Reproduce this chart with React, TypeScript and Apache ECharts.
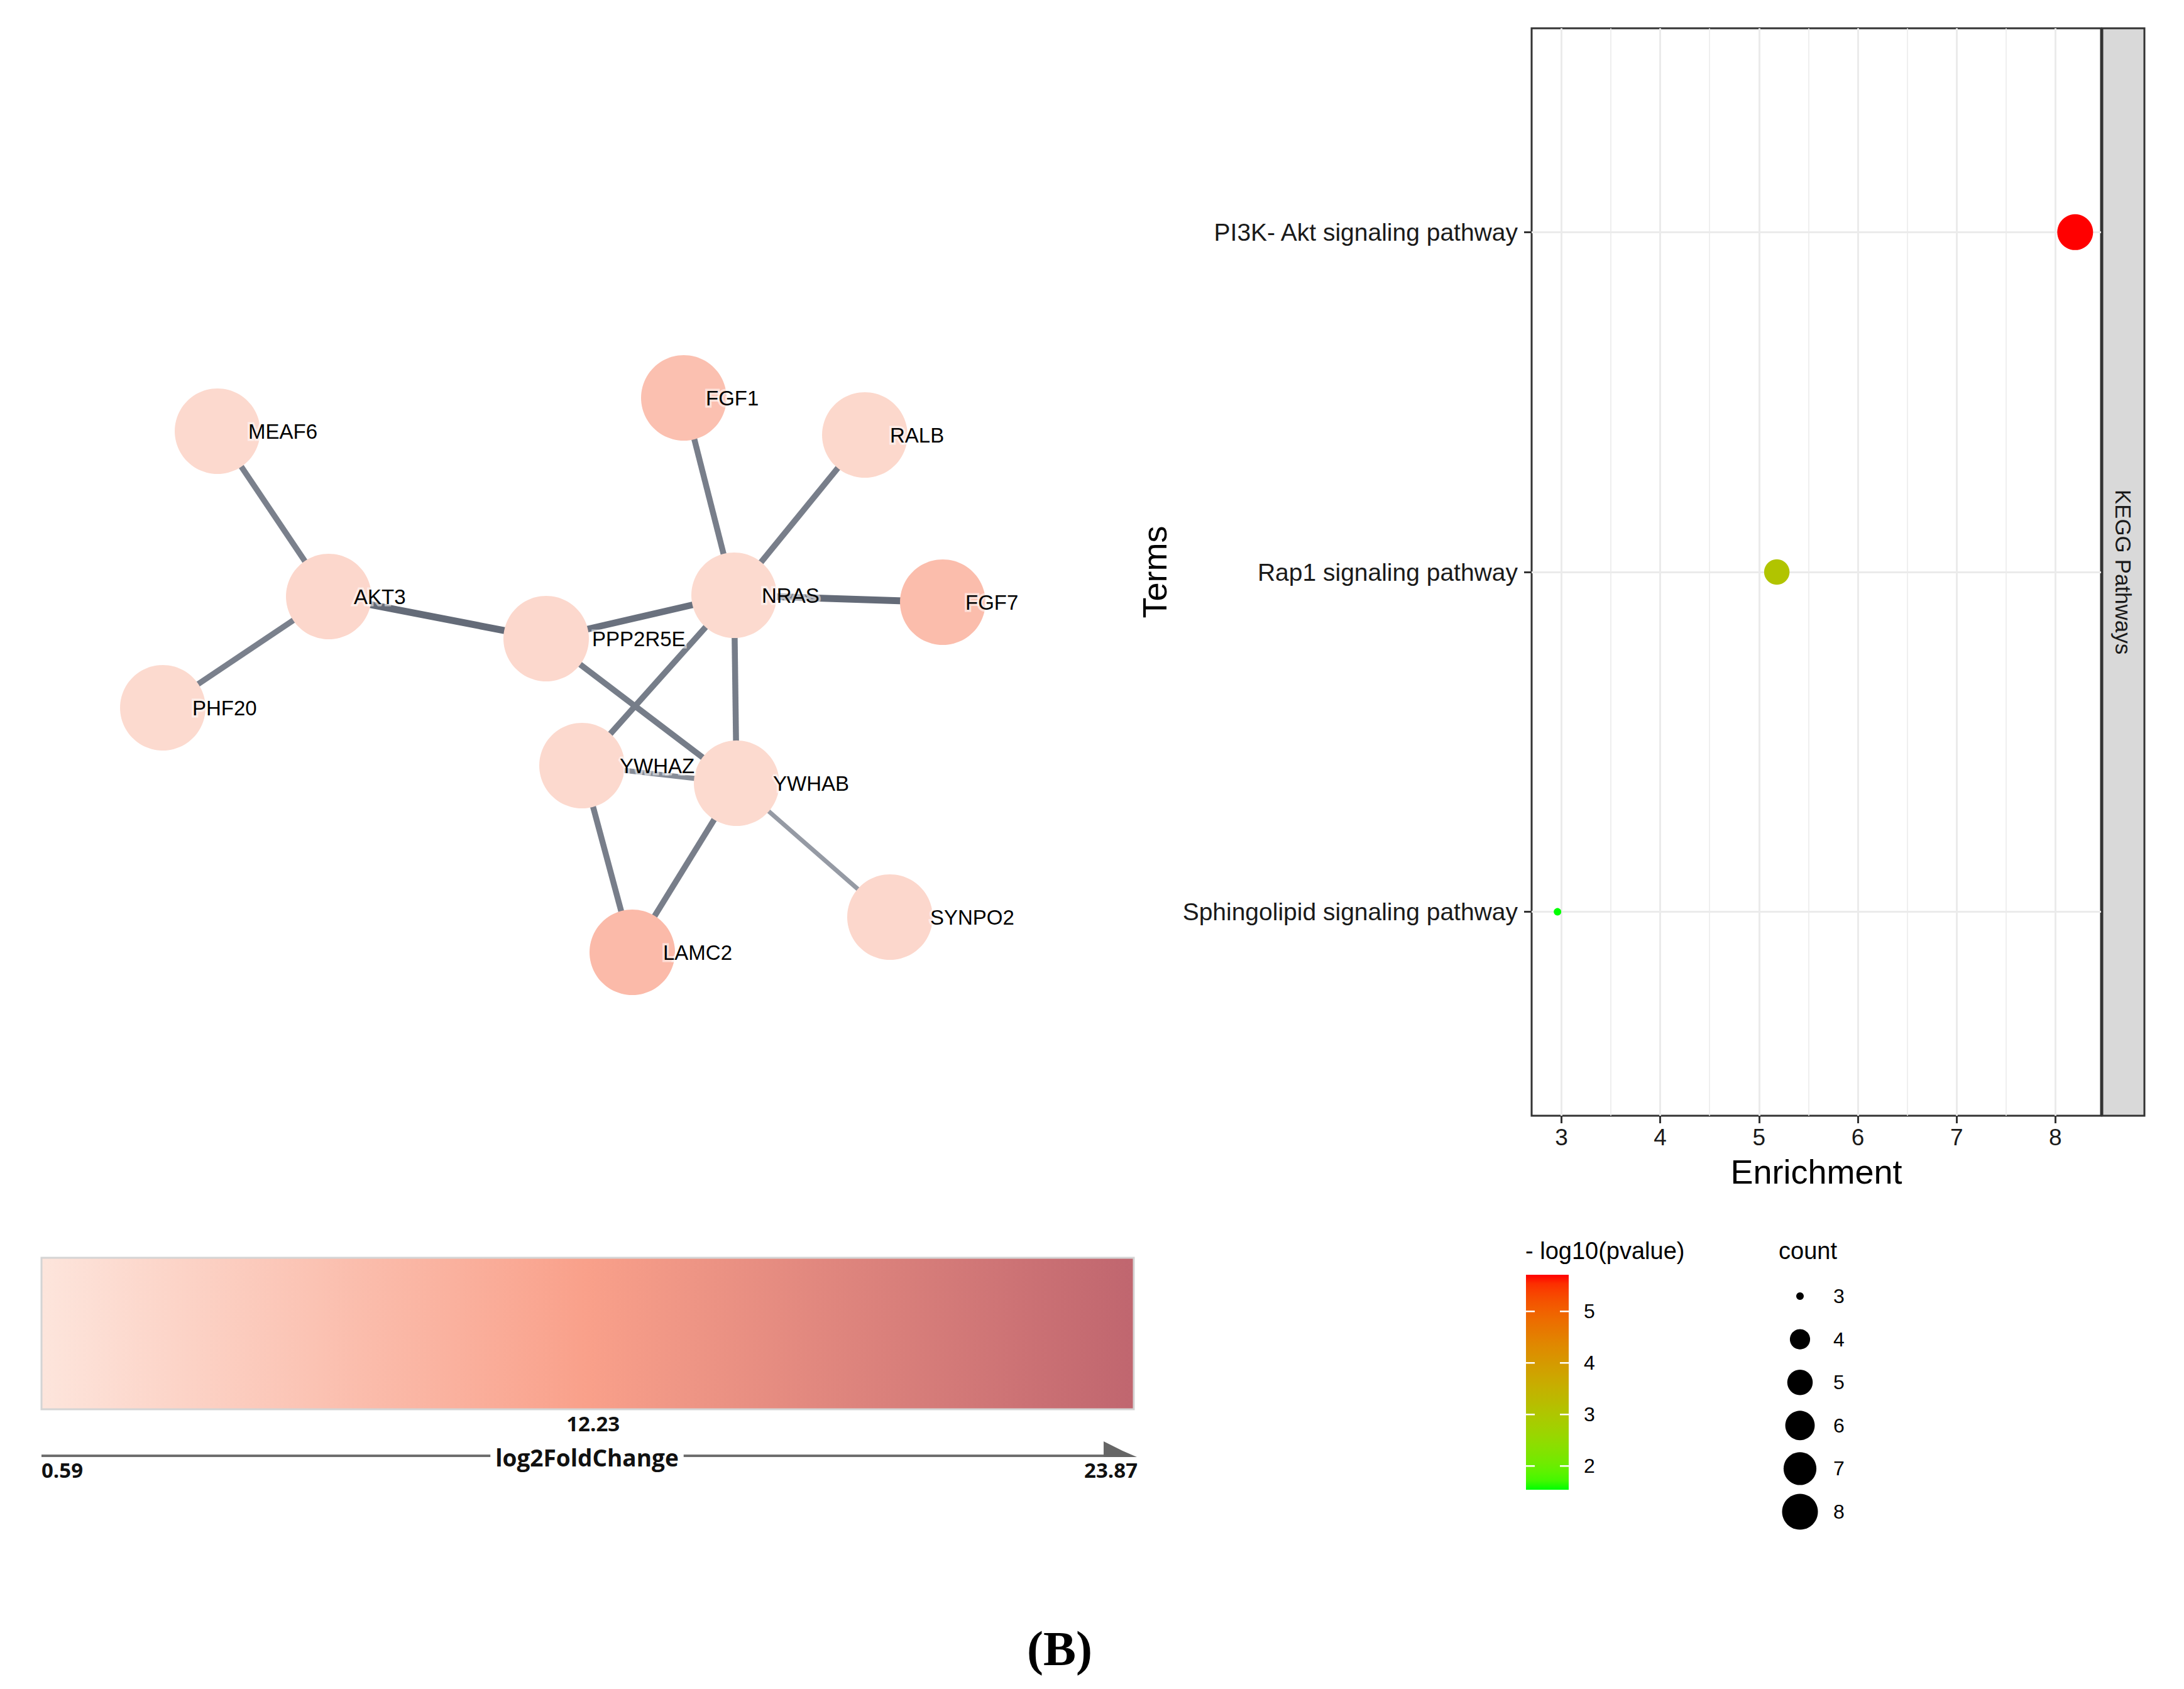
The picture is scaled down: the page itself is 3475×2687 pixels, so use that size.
import React, { useEffect, useRef } from 'react';
import * as echarts from 'echarts';

// ---------------- Network (STRING / Cytoscape) data ----------------
const geneNames = ['MEAF6', 'FGF1', 'RALB', 'AKT3', 'NRAS', 'FGF7', 'PPP2R5E', 'PHF20', 'YWHAZ', 'YWHAB', 'SYNPO2', 'LAMC2'];
// layout coordinates of the network (layout units)
const layoutX = [346, 1088, 1376, 523, 1168, 1500, 869, 259, 926, 1172, 1416, 1006];
const layoutY = [686, 633, 692, 949, 947, 958, 1016, 1126, 1218, 1246, 1459, 1515];
const log2FoldChange = [2.6, 6.9, 2.8, 2.9, 2.5, 7.4, 2.7, 2.4, 2.6, 2.5, 2.9, 7.8];
const edgeSource = ['MEAF6', 'AKT3', 'AKT3', 'PPP2R5E', 'PPP2R5E', 'NRAS', 'NRAS', 'NRAS', 'NRAS', 'NRAS', 'YWHAZ', 'YWHAZ', 'YWHAB', 'YWHAB'];
const edgeTarget = ['AKT3', 'PHF20', 'PPP2R5E', 'NRAS', 'YWHAB', 'FGF1', 'RALB', 'FGF7', 'YWHAZ', 'YWHAB', 'YWHAB', 'LAMC2', 'LAMC2', 'SYNPO2'];
const edgeScore = [0.72, 0.72, 0.9, 0.85, 0.75, 0.74, 0.74, 0.9, 0.75, 0.75, 0.62, 0.74, 0.74, 0.5];
const fcLimits = [0.59, 23.87];
const fcTickLabels = ['0.59', '12.23', '23.87'];
const fcTitle = 'log2FoldChange';

// ---------------- KEGG enrichment data ----------------
const terms = ['Sphingolipid signaling pathway', 'Rap1 signaling pathway', 'PI3K- Akt signaling pathway'];
const enrichment = [2.96, 5.18, 8.2];
const geneCount = [3, 5, 8];
const negLog10P = [1.54, 3.05, 5.71];
const enrichmentTicks = [3, 4, 5, 6, 7, 8];
const enrichmentMinor = [3.5, 4.5, 5.5, 6.5, 7.5];
const pLegendTicks = [2, 3, 4, 5];
const countBreaks = [3, 4, 5, 6, 7, 8];
const facetLabel = 'KEGG Pathways';
const xTitle = 'Enrichment';
const yTitle = 'Terms';
const pTitle = '- log10(pvalue)';
const countTitle = 'count';
const panelTag = '(B)';

// ---------------- styling ----------------
const fcPalette = ['#FDE5DC', '#F9A08A', '#C0666F'];
const edgePalette = ['#959AA4', '#646B78'];
const lowColor = '#00FF00';
const highColor = '#FF0000';
const labelDx: Record<string, number> = {
  MEAF6: 49, FGF1: 35, RALB: 40, AKT3: 40, NRAS: 44, FGF7: 36, PPP2R5E: 73, PHF20: 47, YWHAZ: 60, YWHAB: 58, SYNPO2: 64, LAMC2: 49,
};
const SANS = '"Liberation Sans", Arial, sans-serif';
const NODE_SIZE = 136;

// ---- colour helpers (ggplot interpolates gradients in CIE Lab) ----
function hexToRgb(h: string) {
  const v = parseInt(h.slice(1), 16);
  return [(v >> 16) & 255, (v >> 8) & 255, v & 255];
}
function toLin(c: number) { c /= 255; return c <= 0.04045 ? c / 12.92 : Math.pow((c + 0.055) / 1.055, 2.4); }
function toSrgb(c: number) {
  c = Math.max(0, Math.min(1, c));
  const v = c <= 0.0031308 ? 12.92 * c : 1.055 * Math.pow(c, 1 / 2.4) - 0.055;
  return Math.round(Math.max(0, Math.min(1, v)) * 255);
}
function rgbToLab(rgb: number[]) {
  const R = toLin(rgb[0]), G = toLin(rgb[1]), B = toLin(rgb[2]);
  const X = (0.4124 * R + 0.3576 * G + 0.1805 * B) / 0.95047;
  const Y = 0.2126 * R + 0.7152 * G + 0.0722 * B;
  const Z = (0.0193 * R + 0.1192 * G + 0.9505 * B) / 1.08883;
  const f = (t: number) => (t > 0.008856 ? Math.cbrt(t) : 7.787 * t + 16 / 116);
  const fx = f(X), fy = f(Y), fz = f(Z);
  return [116 * fy - 16, 500 * (fx - fy), 200 * (fy - fz)];
}
function labToRgbStr(lab: number[]) {
  const fy = (lab[0] + 16) / 116, fx = fy + lab[1] / 500, fz = fy - lab[2] / 200;
  const inv = (t: number) => (t * t * t > 0.008856 ? t * t * t : (t - 16 / 116) / 7.787);
  const X = inv(fx) * 0.95047, Y = inv(fy), Z = inv(fz) * 1.08883;
  const r = 3.2406 * X - 1.5372 * Y - 0.4986 * Z;
  const g = -0.9689 * X + 1.8758 * Y + 0.0415 * Z;
  const b = 0.0557 * X - 0.204 * Y + 1.057 * Z;
  return `rgb(${toSrgb(r)},${toSrgb(g)},${toSrgb(b)})`;
}
function labRamp(t: number) {
  const a = rgbToLab(hexToRgb(lowColor)), b = rgbToLab(hexToRgb(highColor));
  return labToRgbStr([0, 1, 2].map((k) => a[k] + (b[k] - a[k]) * t));
}
const pRamp = Array.from({ length: 25 }, (_, i) => labRamp(i / 24));

function countDiameter(c: number) {
  const lo = Math.min(...geneCount), hi = Math.max(...geneCount);
  return 12 + 45 * Math.sqrt((c - lo) / (hi - lo));
}

export default function App() {
  const ref = useRef<HTMLDivElement>(null);
  useEffect(() => {
    if (!ref.current) return;
    const chart = echarts.init(ref.current, undefined, { renderer: 'svg' });

    // enrichment axis limits: ggplot default 5% expansion
    const eMin = Math.min(...enrichment), eMax = Math.max(...enrichment);
    const eExp = (eMax - eMin) * 0.05;
    const pMin = Math.min(...negLog10P), pMax = Math.max(...negLog10P);

    const nodes = geneNames.map((g, i) => {
      const t = (log2FoldChange[i] - fcLimits[0]) / (fcLimits[1] - fcLimits[0]);
      return {
        name: g,
        value: [layoutX[i], layoutY[i]],
        itemStyle: { color: echarts.color.lerp(t, fcPalette) },
        label: { position: [NODE_SIZE / 2 + labelDx[g], NODE_SIZE / 2] },
      };
    });
    const links = edgeSource.map((s, i) => {
      const t = Math.max(0, Math.min(1, (edgeScore[i] - 0.5) / 0.4));
      return {
        source: s,
        target: edgeTarget[i],
        lineStyle: { width: 10 * edgeScore[i] + 2, color: echarts.color.lerp(t, edgePalette), opacity: 1 },
      };
    });

    // panel geometry for non-data graphics (legends / strip)
    const P = { left: 2437, top: 45, width: 906, height: 1730 };
    const strip = { x: P.left + P.width + 2, w: 67 };

    // p-value colourbar
    const pBar = { x: 2428, y: 2028, w: 68, h: 342 };
    const pY = (v: number) => pBar.y + ((pMax - v) / (pMax - pMin)) * pBar.h;

    const fcBar = { x: 66, y: 2001, w: 1738, h: 241 };

    const graphic: any[] = [];
    // facet strip
    graphic.push({
      type: 'rect', z: 10,
      shape: { x: strip.x, y: P.top, width: strip.w, height: P.height },
      style: { fill: '#D9D9D9', stroke: '#333333', lineWidth: 3 },
    });
    graphic.push({
      type: 'text', z: 11, x: strip.x + strip.w / 2, y: P.top + P.height / 2, rotation: -Math.PI / 2,
      style: { text: facetLabel, font: `35px ${SANS}`, fill: '#1A1A1A', align: 'center', verticalAlign: 'middle' },
    });
    // axis titles
    graphic.push({
      type: 'text', x: 1837, y: P.top + P.height / 2, rotation: Math.PI / 2,
      style: { text: yTitle, font: `54px ${SANS}`, fill: '#000', align: 'center', verticalAlign: 'middle' },
    });
    graphic.push({
      type: 'text', x: P.left + P.width / 2, y: 1864,
      style: { text: xTitle, font: `54px ${SANS}`, fill: '#000', align: 'center', verticalAlign: 'middle' },
    });
    // p-value legend
    graphic.push({
      type: 'text', x: 2427, y: 1990,
      style: { text: pTitle, font: `38px ${SANS}`, fill: '#000', align: 'left', verticalAlign: 'middle' },
    });
    graphic.push({
      type: 'rect', shape: { x: pBar.x, y: pBar.y, width: pBar.w, height: pBar.h },
      style: {
        fill: new echarts.graphic.LinearGradient(0, 0, 0, 1,
          pRamp.map((c, i) => ({ offset: i / (pRamp.length - 1), color: pRamp[pRamp.length - 1 - i] }))),
      },
    });
    pLegendTicks.forEach((v) => {
      const y = pY(v);
      graphic.push({ type: 'line', shape: { x1: pBar.x, y1: y, x2: pBar.x + 14, y2: y }, style: { stroke: '#FFFFFF', lineWidth: 2.5 } });
      graphic.push({ type: 'line', shape: { x1: pBar.x + pBar.w - 14, y1: y, x2: pBar.x + pBar.w, y2: y }, style: { stroke: '#FFFFFF', lineWidth: 2.5 } });
      graphic.push({
        type: 'text', x: 2520, y,
        style: { text: String(v), font: `32px ${SANS}`, fill: '#000', align: 'left', verticalAlign: 'middle' },
      });
    });
    // count legend
    graphic.push({
      type: 'text', x: 2830, y: 1990,
      style: { text: countTitle, font: `38px ${SANS}`, fill: '#000', align: 'left', verticalAlign: 'middle' },
    });
    countBreaks.forEach((c, i) => {
      const y = 2062 + i * 68.6;
      graphic.push({ type: 'circle', shape: { cx: 2864, cy: y, r: countDiameter(c) / 2 }, style: { fill: '#000' } });
      graphic.push({
        type: 'text', x: 2917, y,
        style: { text: String(c), font: `32px ${SANS}`, fill: '#000', align: 'left', verticalAlign: 'middle' },
      });
    });
    // log2FoldChange legend
    graphic.push({
      type: 'rect', shape: { x: fcBar.x, y: fcBar.y, width: fcBar.w, height: fcBar.h },
      style: {
        fill: new echarts.graphic.LinearGradient(0, 0, 1, 0,
          fcPalette.map((c, i) => ({ offset: i / (fcPalette.length - 1), color: c }))),
        stroke: '#D4D4D4', lineWidth: 3,
      },
    });
    const legendFont = `bold 33px "Open Sans", ${SANS}`;
    graphic.push({
      type: 'text', x: fcBar.x + fcBar.w * 0.505, y: 2264,
      style: { text: fcTickLabels[1], font: legendFont, fill: '#111', align: 'center', verticalAlign: 'middle' },
    });
    graphic.push({ type: 'line', shape: { x1: fcBar.x, y1: 2316, x2: fcBar.x + fcBar.w - 45, y2: 2316 }, style: { stroke: '#6E6E6E', lineWidth: 4 } });
    graphic.push({
      type: 'polygon',
      shape: { points: [[fcBar.x + fcBar.w - 48, 2293], [fcBar.x + fcBar.w - 48, 2318], [fcBar.x + fcBar.w + 5, 2318], [fcBar.x + fcBar.w - 18, 2308]] },
      style: { fill: '#666666' },
    });
    graphic.push({
      type: 'text', x: 934, y: 2318,
      style: {
        text: fcTitle, font: `bold 37px "Open Sans", ${SANS}`, fill: '#111', align: 'center', verticalAlign: 'middle',
        backgroundColor: '#FFFFFF', padding: [0, 8],
      },
    });
    graphic.push({
      type: 'text', x: fcBar.x, y: 2338,
      style: { text: fcTickLabels[0], font: legendFont, fill: '#111', align: 'left', verticalAlign: 'middle' },
    });
    graphic.push({
      type: 'text', x: fcBar.x + fcBar.w + 6, y: 2338,
      style: { text: fcTickLabels[2], font: legendFont, fill: '#111', align: 'right', verticalAlign: 'middle' },
    });
    // panel tag
    graphic.push({
      type: 'text', x: 1686, y: 2622,
      style: { text: panelTag, font: `bold 78px "Liberation Serif", "Times New Roman", serif`, fill: '#000', align: 'center', verticalAlign: 'middle' },
    });

    const gridLineStyle = (w: number) => ({ color: '#EBEBEB', width: w, type: 'solid' as const });

    const option: any = {
      animation: false,
      backgroundColor: '#FFFFFF',
      textStyle: { fontFamily: SANS },
      grid: [
        { left: 0, top: 0, width: 3475, height: 2687, show: false },
        { left: P.left, top: P.top, width: P.width, height: P.height, show: true, borderColor: '#333333', borderWidth: 3, backgroundColor: '#FFFFFF', z: 0 },
      ],
      xAxis: [
        { gridIndex: 0, type: 'value', min: 0, max: 3475, show: false },
        {
          gridIndex: 1, type: 'value', min: eMin - eExp, max: eMax + eExp,
          axisLine: { show: false },
          axisTick: { show: true, customValues: enrichmentTicks, length: 12, lineStyle: { color: '#333333', width: 3 } },
          axisLabel: { customValues: enrichmentTicks, fontSize: 37, color: '#1A1A1A', margin: 16, fontFamily: SANS },
          splitLine: { show: false },
        },
      ],
      yAxis: [
        { gridIndex: 0, type: 'value', min: 0, max: 2687, inverse: true, show: false },
        {
          gridIndex: 1, type: 'value', min: 1 - 0.6, max: terms.length + 0.6,
          axisLine: { show: false },
          axisTick: { show: true, customValues: terms.map((_, i) => i + 1), length: 12, lineStyle: { color: '#333333', width: 3 } },
          axisLabel: {
            customValues: terms.map((_, i) => i + 1), fontSize: 39, color: '#1A1A1A', margin: 22, fontFamily: SANS,
            formatter: (v: number) => terms[Math.round(v) - 1] ?? '',
          },
          splitLine: { show: false },
        },
      ],
      visualMap: [
        {
          type: 'continuous', show: false, seriesIndex: 2, dimension: 3,
          min: pMin, max: pMax, inRange: { color: pRamp },
        },
      ],
      series: [
        {
          type: 'graph', layout: 'none', coordinateSystem: 'cartesian2d', xAxisIndex: 0, yAxisIndex: 0,
          symbol: 'circle', symbolSize: NODE_SIZE, z: 3,
          data: nodes, links,
          edgeSymbol: ['none', 'none'],
          lineStyle: { curveness: 0 },
          itemStyle: { borderWidth: 0 },
          label: {
            show: true, formatter: '{b}', align: 'left', verticalAlign: 'middle',
            fontSize: 33, fontFamily: SANS, color: '#000000',
            textBorderColor: 'rgba(255,255,255,0.55)', textBorderWidth: 7,
          },
          emphasis: { disabled: true },
          silent: true,
        },
        {
          type: 'scatter', xAxisIndex: 1, yAxisIndex: 1, data: [], z: 1, silent: true,
          markLine: {
            silent: true, symbol: ['none', 'none'], z: 1, label: { show: false },
            emphasis: { disabled: true },
            lineStyle: { type: 'solid' },
            data: [
              ...enrichmentMinor.map((v) => ({ xAxis: v, lineStyle: gridLineStyle(1.6) })),
              ...enrichmentTicks.map((v) => ({ xAxis: v, lineStyle: gridLineStyle(3) })),
              ...terms.map((_, i) => ({ yAxis: i + 1, lineStyle: gridLineStyle(3) })),
            ],
          },
        },
        {
          type: 'scatter', xAxisIndex: 1, yAxisIndex: 1, z: 4, silent: true,
          data: terms.map((t, i) => [enrichment[i], i + 1, geneCount[i], negLog10P[i]]),
          symbolSize: (val: number[]) => countDiameter(val[2]),
          itemStyle: { opacity: 1 },
        },
      ],
      graphic,
    };
    chart.setOption(option);
    return () => chart.dispose();
  }, []);

  return (
    <div
      ref={ref}
      style={{ position: 'absolute', left: 0, top: 0, width: 3475, height: 2687, background: '#FFFFFF' }}
    />
  );
}
